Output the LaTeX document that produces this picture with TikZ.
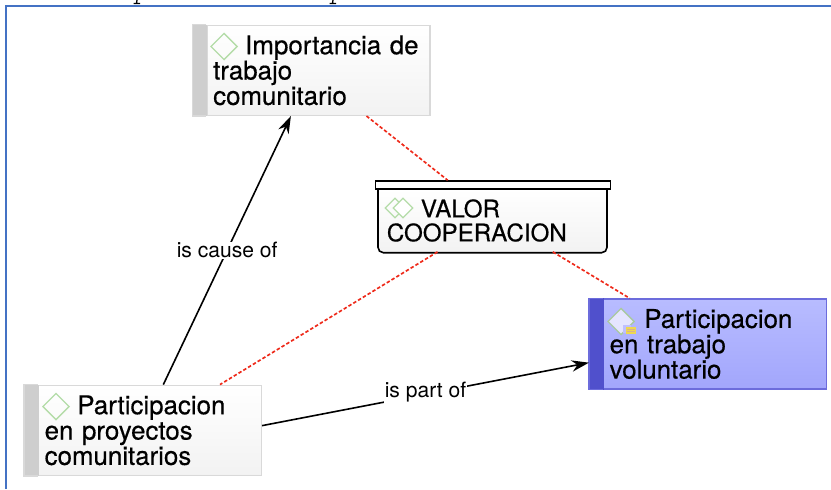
\documentclass[tikz,border=0pt]{standalone}
\usepackage{fontspec}
\setsansfont{TeX Gyre Heros}
\newfontfamily\conceptfont[FakeBold=0.4]{TeX Gyre Heros}
\usetikzlibrary{shapes,arrows.meta}
\definecolor{framecol}{HTML}{4472C4}
\definecolor{bandgray}{HTML}{CECECE}
\definecolor{bordergray}{HTML}{D9D9D9}
\definecolor{iconrim}{HTML}{B4DCA8}
\definecolor{bluetop}{HTML}{B8BCFF}
\definecolor{bluebottom}{HTML}{A2A6FC}
\definecolor{blueband}{HTML}{5050CC}
\definecolor{blueedge}{HTML}{6C6CDC}
\definecolor{dotred}{HTML}{EE2A1A}
\tikzstyle{arrow} = [line width=1.2pt,-{Stealth[length=13pt,width=8.5pt]}]
\tikzstyle{dotline} = [line width=1.25pt,dotred,dash pattern=on 2.6pt off 1.6pt]
\tikzstyle{concept} = [rectangle,align=left,text width=158pt,minimum height=67.5pt,inner xsep=4.5pt,inner ysep=0pt,
                       line width=1.1pt,font=\conceptfont\fontsize{19.4}{19}\selectfont]
\tikzstyle{icon} = [diamond,draw=iconrim,line width=1pt,aspect=1,minimum width=20pt,minimum height=20pt,inner sep=0pt]
\tikzstyle{linklabel} = [fill=white,inner sep=0.5pt,font=\sffamily\fontsize{15.8}{18}\selectfont]

\begin{document}
\begin{tikzpicture}[x=0.75pt,y=-0.75pt]
    \useasboundingbox (0,0) rectangle (831,489);
    \draw[framecol,line width=1.6pt] (6,489) -- (6,6) -- (831,6);
    \draw[line width=1pt] (137,0) -- (136.5,3.5) (133.5,3.5) -- (140,3.5);
    \draw[line width=1pt] (333,0) -- (332.5,3.5) (329.5,3.5) -- (336,3.5);

    \node[concept,draw=bordergray,top color=white,bottom color=black!5] (importancia) at (318.5,70.3)
        {\hspace*{24pt}Importancia de\\trabajo\\comunitario};
    \node[concept,draw=bordergray,top color=white,bottom color=black!5] (proyectos) at (150,430.3)
        {\hspace*{24.5pt}Participacion\\en proyectos\\comunitarios};
    \node[concept,draw=blueedge,top color=bluetop,bottom color=bluebottom] (voluntario) at (715,344)
        {\hspace*{26pt}Participacion\\en trabajo\\voluntario};
    \fill[bandgray] ([xshift=-10.5pt]importancia.north west) rectangle ([xshift=0.55pt]importancia.south west);
    \draw[bordergray,line width=1.1pt] (importancia.north west) -- ++(-14,0) -- ([xshift=-10.5pt]importancia.south west) -- (importancia.south west);
    \fill[bandgray] ([xshift=-10.5pt]proyectos.north west) rectangle ([xshift=0.55pt]proyectos.south west);
    \draw[bordergray,line width=1.1pt] (proyectos.north west) -- ++(-14,0) -- ([xshift=-10.5pt]proyectos.south west) -- (proyectos.south west);
    \fill[blueband] ([xshift=-10.5pt]voluntario.north west) rectangle ([xshift=0.55pt]voluntario.south west);
    \draw[blueedge,line width=1.1pt] (voluntario.north west) -- ++(-14,0) -- ([xshift=-10.5pt]voluntario.south west) -- (voluntario.south west);

    \draw[black,line width=1.2pt,top color=white,bottom color=black!5] (378,189) {[rounded corners=4pt] -- (378,252.7) -- (607,252.7)} -- (607,189) -- cycle;
    \node[rectangle,draw=black,fill=white,line width=1.2pt,minimum width=176pt,minimum height=6pt,inner sep=0pt] (valorlid) at (493,185) {};
    \node[concept,text width=160pt,minimum height=46pt,font=\conceptfont\fontsize{18.1}{18}\selectfont] (valor) at (493.5,220.5) {\hspace*{25.5pt}VALOR\\COOPERACION};

    \node[icon] (iconimportancia) at (224,46.5) {};
    \node[icon] (iconproyectos) at (56,406.5) {};
    \node[icon,draw=iconrim!80!gray,fill=blue!10] (iconvoluntario) at (621,321.5) {};
    \node[icon,minimum width=15pt,minimum height=15pt] (iconvalorback) at (395,208) {};
    \node[icon,fill=white,minimum width=15pt,minimum height=15pt] (iconvalor) at (403,208) {};
    \fill[blue!25] (623,325) rectangle (631,333);
    \fill[yellow!65!brown!80] (625.5,327) rectangle (636,333.5);
    \draw[brown!60,line width=0.4pt] (627,329) -- (634.5,329) (627,331) -- (634.5,331);

    \draw[arrow] ([xshift=10pt]proyectos.north) -- node[linklabel] (causelabel) {is cause of} ([xshift=-20.7pt]importancia.south);
    \draw[arrow] ([yshift=3.5pt]proyectos.east) -- node[linklabel,yshift=1.5pt] (partlabel) {is part of} ([xshift=-10.5pt,yshift=-14pt]voluntario.west);

    \draw[dotline] ([xshift=36pt]importancia.south) -- ([xshift=-34pt]valorlid.north);
    \draw[dotline] ([xshift=-42pt]valor.south) -- ([xshift=52.5pt]proyectos.north);
    \draw[dotline] ([xshift=44.5pt]valor.south) -- ([xshift=-64pt]voluntario.north);
\end{tikzpicture}
\end{document}
